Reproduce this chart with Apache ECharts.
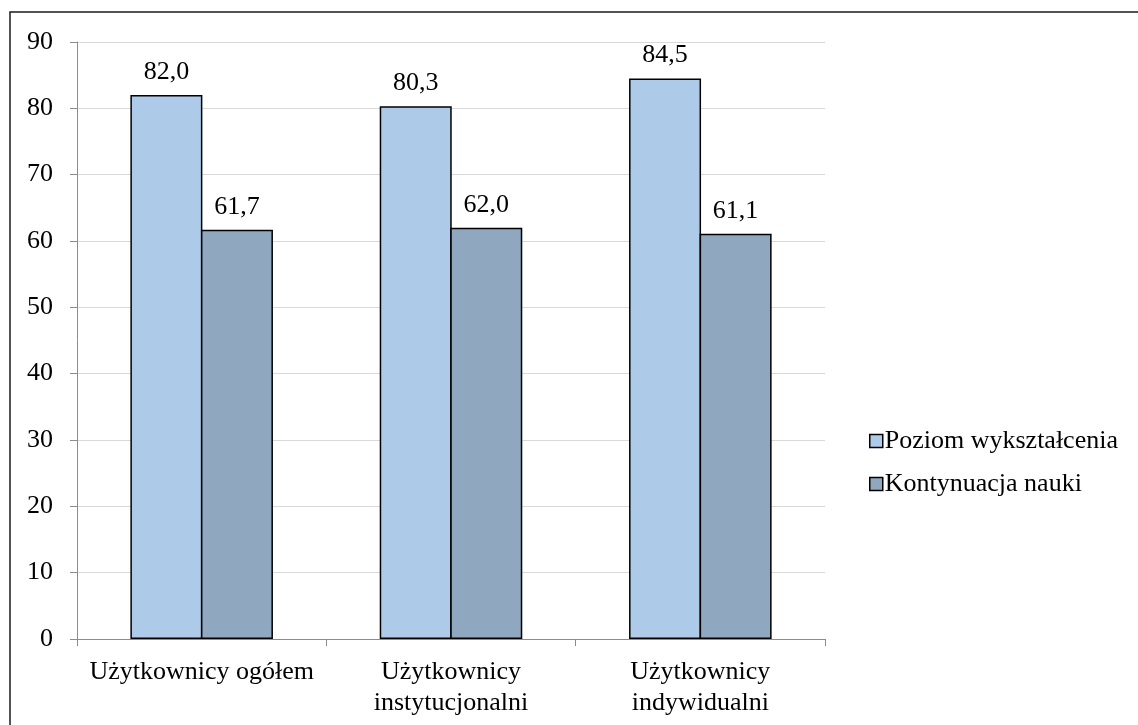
<!DOCTYPE html>
<html>
<head>
<meta charset="utf-8">
<script src="https://cdn.jsdelivr.net/npm/echarts@6/dist/echarts.min.js"></script>
<style>
html,body{margin:0;padding:0;background:#fff;}
#chart{width:1138px;height:725px;}
</style>
</head>
<body>
<div id="chart"></div>
<script>
const categories = ['Użytkownicy ogółem', 'Użytkownicy\ninstytucjonalni', 'Użytkownicy\nindywidualni'];
const seriesNames = ['Poziom wykształcenia', 'Kontynuacja nauki'];
const poziom = [82.0, 80.3, 84.5];
const kontynuacja = [61.7, 62.0, 61.1];
const yTicks = { min: 0, max: 90, interval: 10 };

const FONT = '"Liberation Serif", "Times New Roman", serif';
const FS = 26;
const chart = echarts.init(document.getElementById('chart'), null, { renderer: 'canvas' });

const labelFmt = p => p.value.toFixed(1).replace('.', ',');

chart.setOption({
  animation: false,
  backgroundColor: '#fff',
  textStyle: { fontFamily: FONT },
  graphic: [{
    type: 'rect',
    shape: { x: 10, y: 12, width: 1140, height: 730 },
    style: { fill: 'none', stroke: '#1a1a1a', lineWidth: 1.5 },
    silent: true, z: -1
  }],
  grid: { left: 77, right: 313, top: 42, bottom: 86, containLabel: false },
  legend: {
    orient: 'vertical',
    left: 864,
    top: 423,
    itemWidth: 13,
    itemHeight: 13,
    itemGap: 17,
    icon: 'rect',
    textStyle: { fontFamily: FONT, fontSize: FS, color: '#000', padding: [0, 0, 0, -3] },
    data: seriesNames.map(n => ({ name: n, itemStyle: { borderColor: '#000', borderWidth: 1.5 } }))
  },
  xAxis: {
    type: 'category',
    data: categories,
    axisLine: { lineStyle: { color: '#8c8c8c', width: 1 } },
    axisTick: { show: true, length: 7, lineStyle: { color: '#8c8c8c' } },
    axisLabel: { interval: 0, hideOverlap: false, fontFamily: FONT, fontSize: FS, color: '#000', margin: 18, lineHeight: 31 }
  },
  yAxis: {
    type: 'value',
    min: yTicks.min, max: yTicks.max, interval: yTicks.interval,
    axisLine: { show: true, lineStyle: { color: '#8c8c8c', width: 1 } },
    axisTick: { show: true, length: 7, lineStyle: { color: '#8c8c8c' } },
    splitLine: { lineStyle: { color: '#d9d9d9', width: 1 } },
    axisLabel: { fontFamily: FONT, fontSize: FS, color: '#000', margin: 24 }
  },
  series: [
    {
      name: seriesNames[0], type: 'bar', data: poziom,
      barWidth: 72, barGap: '-2%',
      itemStyle: { color: '#adcbe9', borderColor: '#000', borderWidth: 1.5 },
      label: { show: true, position: 'top', distance: 10, formatter: labelFmt, fontFamily: FONT, fontSize: FS, color: '#000' }
    },
    {
      name: seriesNames[1], type: 'bar', data: kontynuacja,
      barWidth: 72, barGap: '-2%',
      itemStyle: { color: '#8fa7bf', borderColor: '#000', borderWidth: 1.5 },
      label: { show: true, position: 'top', distance: 10, formatter: labelFmt, fontFamily: FONT, fontSize: FS, color: '#000' }
    }
  ]
});
</script>
</body>
</html>
